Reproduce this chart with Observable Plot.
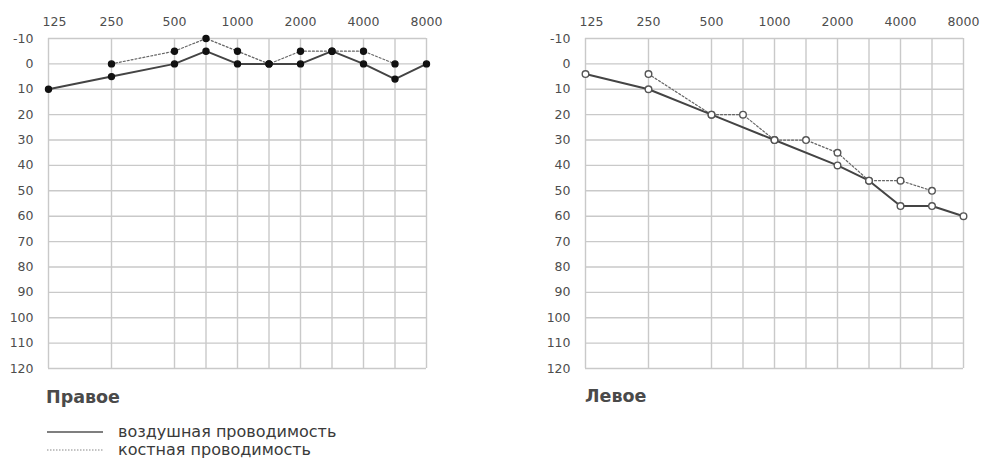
<!DOCTYPE html>
<html>
<head>
<meta charset="utf-8">
<script src="https://cdn.jsdelivr.net/npm/d3@7"></script>
<script src="https://cdn.jsdelivr.net/npm/@observablehq/plot@0.6"></script>
<style>
  body { margin: 0; background: #fff; }
  #wrap { position: relative; width: 981px; height: 459px; overflow: hidden; font-family: "DejaVu Sans", sans-serif; }
  .chart { position: absolute; top: 0; }
  .title { position: absolute; font-size: 17.5px; font-weight: bold; color: #4a4a4a; line-height: 20px; }
  .leg { position: absolute; font-size: 16px; color: #3a3a3a; line-height: 18px; }
</style>
</head>
<body>
<div id="wrap"></div>
<script>
// Frequencies (Hz) on the audiogram grid
const freqs = [125, 250, 500, 750, 1000, 1500, 2000, 3000, 4000, 6000, 8000];
// Labelled frequencies on top axis
const freqLabels = [125, 250, 500, 1000, 2000, 4000, 8000];
// Hearing level ticks (dB)
const dbTicks = [-10, 0, 10, 20, 30, 40, 50, 60, 70, 80, 90, 100, 110, 120];

// Right ear (Правое)
const rightAir  = [10, 5, 0, -5, 0, 0, 0, -5, 0, 6, 0];
const rightBone = [null, 0, -5, -10, -5, 0, -5, -5, -5, 0, null];
// Left ear (Левое)
const leftAir  = [4, 10, 20, null, 30, null, 40, 46, 56, 56, 60];
const leftBone = [null, 4, 20, 20, 30, 30, 35, 46, 46, 50, null];

const titles = ["Правое", "Левое"];
const legendLabels = ["воздушная проводимость", "костная проводимость"];

// audiogram position: octaves below 500 take two half-octave steps
const pos = f => { const i = freqs.indexOf(f); return i <= 2 ? 2 * i : i + 2; };
const rows = arr => freqs.map((f, i) => ({f, v: arr[i]})).filter(d => d.v != null);

function chart(air, bone, filled) {
  const a = rows(air), b = rows(bone);
  const dotOpts = {x: d => pos(d.f), y: "v", r: filled ? 3 : 3.3, fill: filled ? "#111" : "white", stroke: filled ? "#111" : "#555", strokeWidth: 1.4};
  return Plot.plot({
    width: 450, height: 380,
    marginLeft: 48, marginRight: 24, marginTop: 38, marginBottom: 12,
    style: {fontFamily: "DejaVu Sans", fontSize: "12.5px", color: "#4d4d4d", background: "transparent"},
    x: {type: "linear", domain: [0, 12], axis: null},
    y: {domain: [-10, 120], reverse: true, axis: null},
    marks: [
      Plot.gridX(freqs, {x: pos, stroke: "#c9c9c9", strokeOpacity: 1, strokeWidth: 1.4}),
      Plot.gridY(dbTicks, {stroke: "#c9c9c9", strokeOpacity: 1, strokeWidth: 1.4}),
      Plot.axisX(freqLabels.slice(0, 1), {x: pos, anchor: "top", label: null, tickSize: 0, tickPadding: 13, dx: 6, tickFormat: d => String(d), fill: "#4d4d4d"}),
      Plot.axisX(freqLabels.slice(1), {x: pos, anchor: "top", label: null, tickSize: 0, tickPadding: 13, tickFormat: d => String(d), fill: "#4d4d4d"}),
      Plot.axisY(dbTicks, {anchor: "left", label: null, tickSize: 0, tickPadding: 15, tickFormat: d => String(d), fill: "#4d4d4d"}),
      Plot.line(b, {x: d => pos(d.f), y: "v", stroke: "#666", strokeWidth: 1.2, strokeDasharray: "2,2"}),
      Plot.line(a, {x: d => pos(d.f), y: "v", stroke: "#444", strokeWidth: 2}),
      Plot.dot(b, dotOpts),
      Plot.dot(a, dotOpts)
    ]
  });
}

const wrap = document.getElementById("wrap");
const c1 = chart(rightAir, rightBone, true);
c1.classList.add("chart"); c1.style.left = "0px";
wrap.appendChild(c1);
const c2 = chart(leftAir, leftBone, false);
c2.classList.add("chart"); c2.style.left = "537px";
wrap.appendChild(c2);

const t1 = document.createElement("div");
t1.className = "title"; t1.textContent = titles[0];
t1.style.left = "46px"; t1.style.top = "387px";
wrap.appendChild(t1);
const t2 = document.createElement("div");
t2.className = "title"; t2.textContent = titles[1];
t2.style.left = "585px"; t2.style.top = "386px";
wrap.appendChild(t2);

// legend
const ns = "http://www.w3.org/2000/svg";
const lsvg = document.createElementNS(ns, "svg");
lsvg.setAttribute("width", 120); lsvg.setAttribute("height", 459);
lsvg.style.position = "absolute"; lsvg.style.left = "0px"; lsvg.style.top = "0px";
[[432, "#555", 1.6, null], [450, "#888", 1.2, "1.5,1.5"]].forEach(([y, s, w, dash]) => {
  const l = document.createElementNS(ns, "line");
  l.setAttribute("x1", 47); l.setAttribute("x2", 103);
  l.setAttribute("y1", y); l.setAttribute("y2", y);
  l.setAttribute("stroke", s); l.setAttribute("stroke-width", w);
  if (dash) l.setAttribute("stroke-dasharray", dash);
  lsvg.appendChild(l);
});
wrap.appendChild(lsvg);
legendLabels.forEach((txt, i) => {
  const d = document.createElement("div");
  d.className = "leg"; d.textContent = txt;
  d.style.left = "118px"; d.style.top = (423 + i * 18) + "px";
  wrap.appendChild(d);
});
</script>
</body>
</html>
